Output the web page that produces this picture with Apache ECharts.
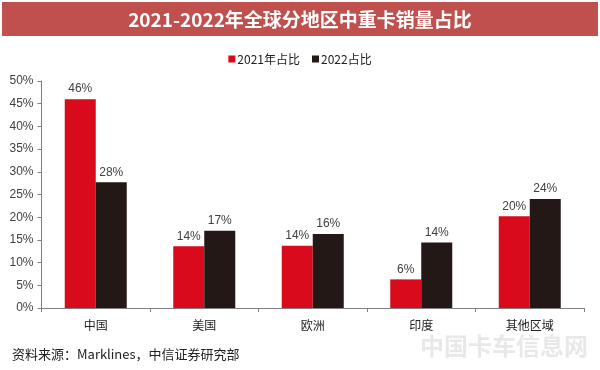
<!DOCTYPE html>
<html>
<head>
<meta charset="utf-8">
<script src="https://cdn.jsdelivr.net/npm/echarts@6/dist/echarts.min.js"></script>
<style>
html,body{margin:0;padding:0;background:#fff;}
#c{width:600px;height:370px;}
</style>
</head>
<body>
<div id="c"></div>
<script>
const titleText = '2021-2022年全球分地区中重卡销量占比';
const categories = ['中国', '美国', '欧洲', '印度', '其他区域'];
const seriesNames = ['2021年占比', '2022占比'];
const share2021 = [46.0, 13.6, 13.7, 6.3, 20.2];
const share2022 = [27.7, 17.0, 16.3, 14.4, 24.0];
const yTicks = [0, 5, 10, 15, 20, 25, 30, 35, 40, 45, 50];
const sourceText = '资料来源：Marklines，中信证券研究部';
const watermarkText = '中国卡车信息网';

const font = '"Liberation Sans", Arial, "Noto Sans CJK SC", sans-serif';
const chart = echarts.init(document.getElementById('c'), null, {renderer: 'canvas'});
const labelCfg = {
  show: true, position: 'top', distance: 4,
  color: '#404040', fontSize: 12, fontFamily: font,
  formatter: p => Math.round(p.value) + '%'
};
chart.setOption({
  animation: false,
  backgroundColor: '#fff',
  textStyle: {fontFamily: font},
  graphic: [
    {type: 'rect', shape: {x: 2, y: 2, width: 596, height: 34}, style: {fill: '#C0504D'}, z: 0},
    {type: 'text', x: 300, y: 20, style: {text: titleText, fill: '#fff', align: 'center', verticalAlign: 'middle', font: 'bold 19px "Noto Sans CJK SC", sans-serif'}},
    {type: 'text', left: 12, top: 348, style: {text: sourceText, fill: '#222', font: '13px "Noto Sans CJK SC", sans-serif'}},
    {type: 'text', right: 12, top: 334, style: {text: watermarkText, fill: 'rgba(190,190,190,0.35)', font: 'bold 24px "Noto Sans CJK SC", sans-serif'}}
  ],
  legend: {
    data: seriesNames,
    top: 48, left: 'center',
    itemWidth: 7, itemHeight: 7, itemGap: 12,
    icon: 'rect',
    textStyle: {fontSize: 12, color: '#222', padding: [0, 0, 0, -3], fontFamily: '"Noto Sans CJK SC", sans-serif'}
  },
  grid: {left: 41.5, right: 16, top: 81, bottom: 62},
  xAxis: {
    type: 'category',
    data: categories,
    axisLine: {lineStyle: {color: '#808080'}},
    axisTick: {show: true, length: 4, lineStyle: {color: '#808080'}},
    axisLabel: {color: '#222', fontSize: 12, margin: 11, fontFamily: '"Noto Sans CJK SC", sans-serif'}
  },
  yAxis: {
    type: 'value',
    min: yTicks[0], max: yTicks[yTicks.length - 1], interval: 5,
    splitLine: {show: false},
    axisLine: {show: true, lineStyle: {color: '#808080'}},
    axisTick: {show: true, length: 4, lineStyle: {color: '#808080'}},
    axisLabel: {color: '#404040', fontSize: 12, margin: 8, formatter: '{value}%'}
  },
  series: [
    {name: seriesNames[0], type: 'bar', data: share2021, barWidth: 31, barGap: '0%', itemStyle: {color: '#D90A1B'}, label: labelCfg},
    {name: seriesNames[1], type: 'bar', data: share2022, barWidth: 31, barGap: '0%', itemStyle: {color: '#231815'}, label: labelCfg}
  ]
});
</script>
</body>
</html>
